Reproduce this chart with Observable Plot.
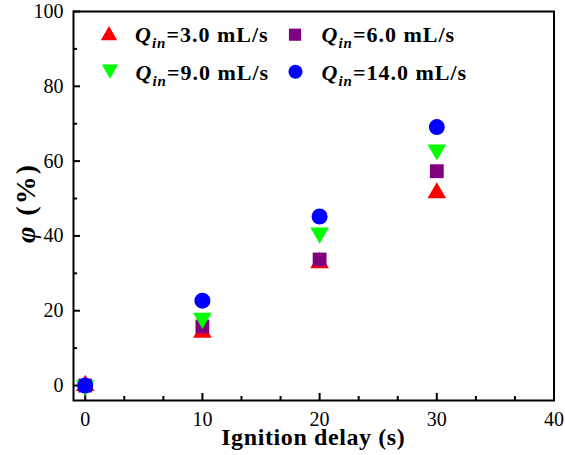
<!DOCTYPE html>
<html><head><meta charset="utf-8">
<script src="https://cdn.jsdelivr.net/npm/d3@7"></script>
<script src="https://cdn.jsdelivr.net/npm/@observablehq/plot@0.6"></script>
<style>body{margin:0;background:#fff} svg{display:block}</style>
</head><body><div id="chart"></div>
<script>
// ---- data ----
const delay = [0, 10, 20, 30];
const q3  = [0, 14.2, 32.8, 51.5];
const q6  = [0, 15.8, 33.7, 57.3];
const q9  = [0, 18.0, 40.8, 63.0];
const q14 = [0, 22.7, 45.2, 69.1];
const seriesLabels = ["3.0", "6.0", "9.0", "14.0"];
const xTicks = [0, 10, 20, 30, 40];
const yTicks = [0, 20, 40, 60, 80, 100];
const xMinor = xTicks.slice(0, -1).flatMap(t => [t + 10 / 3, t + 20 / 3]);
const yMinor = [10, 30, 50, 70, 90];

// ---- layout ----
const W = 565, H = 455, mL = 73, mR = 11.5, mT = 11, mB = 55;
const fw = W - mL - mR, fh = H - mT - mB;
const serif = "'Liberation Serif','Times New Roman',serif";

const triangleDown = {
  draw(ctx, size) {
    const y = -Math.sqrt(size / (Math.sqrt(3) * 3));
    ctx.moveTo(0, -2 * y);
    ctx.lineTo(-Math.sqrt(3) * y, y);
    ctx.lineTo(Math.sqrt(3) * y, y);
    ctx.closePath();
  }
};

const series = [
  {values: q3,  symbol: "triangle", r: 6.9, color: "#ff0000"},
  {values: q6,  symbol: "square",   r: 7.8, color: "#800080"},
  {values: q9,  symbol: triangleDown, r: 6.9, color: "#00ff00"},
  {values: q14, symbol: "circle",   r: 8,   color: "#0000ff"}
];

const table = series.map(s => delay.map((d, i) => ({delay: d, phi: s.values[i]})));

const plot = Plot.plot({
  width: W, height: H,
  marginLeft: mL, marginRight: mR, marginTop: mT, marginBottom: mB,
  style: {fontFamily: serif, background: "white", color: "black", overflow: "visible"},
  x: {domain: [-1, 40]},
  y: {domain: [-4, 100]},
  marks: [
    Plot.axisX(xTicks, {tickSize: 0, tickPadding: 11, fontSize: 20, label: null}),
    Plot.axisY(yTicks, {tickSize: 0, tickPadding: 10, fontSize: 20, label: null}),
    Plot.tickX(xTicks, {x: d => d, insetTop: fh - 7, strokeWidth: 2, stroke: "black"}),
    Plot.tickX(xMinor, {x: d => d, insetTop: fh - 4, strokeWidth: 2, stroke: "black"}),
    Plot.tickY(yTicks, {y: d => d, insetRight: fw - 7, strokeWidth: 2, stroke: "black"}),
    Plot.tickY(yMinor, {y: d => d, insetRight: fw - 4, strokeWidth: 2, stroke: "black"}),
    ...series.map((s, k) => Plot.dot(table[k], {
      x: "delay", y: "phi", symbol: s.symbol, r: s.r, fill: s.color, stroke: "none"
    })),
    Plot.frame({strokeWidth: 2, stroke: "black"})
  ]
});

const svg = d3.select(plot);

// legend
const legendPos = [
  {sx: 109, sy: 35.5, tx: 135, ty: 41.5},
  {sx: 295, sy: 34.7, tx: 321.5, ty: 41.5},
  {sx: 110, sy: 69.3, tx: 135.5, ty: 80},
  {sx: 295.5, sy: 71.7, tx: 321.5, ty: 80}
];
const lg = svg.append("g").attr("font-family", serif).attr("font-weight", "bold")
  .attr("text-anchor", "start");
series.forEach((s, k) => {
  const p = legendPos[k];
  const symType = s.symbol === "triangle" ? d3.symbolTriangle
    : s.symbol === "square" ? d3.symbolSquare
    : s.symbol === "circle" ? d3.symbolCircle : s.symbol;
  const size = Math.PI * (s.r * 0.88) ** 2;
  lg.append("path")
    .attr("d", d3.symbol(symType, size)())
    .attr("transform", `translate(${p.sx},${p.sy})`)
    .attr("fill", s.color);
  const t = lg.append("text").attr("x", p.tx).attr("y", p.ty)
    .attr("text-anchor", "start")
    .attr("font-size", 22).attr("letter-spacing", 1).attr("fill", "black");
  t.append("tspan").attr("font-style", "italic").text("Q");
  t.append("tspan").attr("font-style", "italic").attr("font-size", 15).attr("dy", 6).text("in");
  t.append("tspan").attr("dy", -6).text(`=${seriesLabels[k]} mL/s`);
});

// axis titles
svg.append("text")
  .attr("x", mL + fw / 2).attr("y", 445)
  .attr("text-anchor", "middle")
  .attr("font-family", serif).attr("font-weight", "bold")
  .attr("font-size", 24).attr("letter-spacing", 0.6)
  .attr("fill", "black")
  .text("Ignition delay (s)");

const yt = svg.append("text")
  .attr("transform", "translate(35,203) rotate(-90)")
  .attr("text-anchor", "middle")
  .attr("font-family", serif).attr("font-weight", "bold")
  .attr("font-size", 28).attr("letter-spacing", 2)
  .attr("fill", "black");
yt.append("tspan").attr("font-style", "italic").text("φ");
yt.append("tspan").text(" (%)");

document.getElementById("chart").appendChild(plot);
</script>
</body></html>
